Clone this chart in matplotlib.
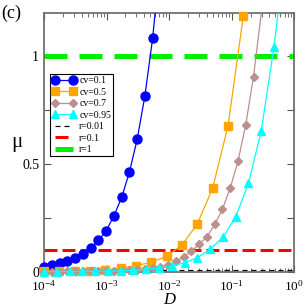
import matplotlib
matplotlib.use("Agg")
import matplotlib.pyplot as plt
import numpy as np
from matplotlib.ticker import LogLocator

plt.rcParams['font.family'] = ['Liberation Serif', 'DejaVu Serif']
plt.rcParams['mathtext.fontset'] = 'stix'
plt.rcParams['lines.scale_dashes'] = False

# log10(D) positions and mu values
blue_logD = [-4.0, -3.876, -3.752, -3.628, -3.504, -3.38, -3.256, -3.132, -3.008,
             -2.884, -2.76, -2.636, -2.512, -2.388, -2.264]
blue_mu = [0.022, 0.032, 0.041, 0.051, 0.063, 0.081, 0.108, 0.145, 0.19,
           0.258, 0.345, 0.461, 0.614, 0.816, 1.085]

orange_logD = [-4.0, -3.755, -3.51, -3.265, -3.02, -2.775, -2.53, -2.285, -2.04,
               -1.795, -1.55, -1.305, -1.06, -0.815]
orange_mu = [0.001, 0.002, 0.003, 0.005, 0.009, 0.016, 0.028, 0.044, 0.071,
             0.124, 0.222, 0.388, 0.677, 1.187]

brown_logD = [-4.0, -3.876, -3.752, -3.628, -3.504, -3.38, -3.256, -3.132, -3.008,
              -2.884, -2.76, -2.636, -2.512, -2.388, -2.264, -2.14, -2.016, -1.892,
              -1.768, -1.644, -1.52, -1.396, -1.272, -1.148, -1.024, -0.9, -0.776, -0.652]
brown_mu = [0.0, 0.0, 0.0, 0.001, 0.001, 0.001, 0.002, 0.002, 0.003,
            0.004, 0.005, 0.007, 0.009, 0.012, 0.016, 0.022, 0.03, 0.05,
            0.068, 0.095, 0.128, 0.162, 0.22, 0.291, 0.389, 0.513, 0.683, 0.906]

cyan_logD = [-4.0, -3.796, -3.592, -3.387, -3.183, -2.979, -2.775, -2.571, -2.367,
             -2.162, -1.958, -1.754, -1.55, -1.345, -1.141, -0.937, -0.733, -0.529, -0.325]
cyan_mu = [0.0, 0.0, 0.001, 0.001, 0.002, 0.003, 0.004, 0.007, 0.011,
           0.017, 0.026, 0.042, 0.065, 0.104, 0.159, 0.255, 0.41, 0.654, 1.043]

# where each smooth curve leaves the top of the frame
curve_exit_logD = [-2.225, -0.80, -0.528, -0.26]
curve_exit_mu = [1.2, 1.25, 1.2, 1.2]

labels = ['cv=0.1', 'cv=0.5', 'cv=0.7', 'cv=0.95']
r_values = [0.01, 0.1, 1]
r_labels = ['r=0.01', 'r=0.1', 'r=1']

fig = plt.figure(figsize=(3.05, 3.07), dpi=100)
ax = fig.add_axes([0.1443, 0.115, 0.8207, 0.8417])

px = 0.72  # points per pixel

# horizontal reference lines
ax.axhline(r_values[0], color='black', lw=1.2 * px, dashes=(5 * px, 4 * px), label=r_labels[0], zorder=2)
ax.axhline(r_values[1], color='#ff0000', lw=3 * px, dashes=(13 * px, 5 * px), label=r_labels[1], zorder=2)
ax.axhline(r_values[2], color='#00ee00', lw=5 * px, dashes=(23 * px, 12 * px), label=r_labels[2], zorder=2)

series = [
    (blue_logD, blue_mu, '#0000ff', 'o', 6.5),
    (orange_logD, orange_mu, '#ffa500', 's', 5.2),
    (brown_logD, brown_mu, '#bc8f8f', 'D', 4.0),
    (cyan_logD, cyan_mu, '#00ffff', '^', 6.0),
]

handles = []
for i, (lx, mu, c, m, ms) in enumerate(series):
    x = 10 ** np.array(lx + [curve_exit_logD[i]])
    y = np.array(mu + [curve_exit_mu[i]])
    ax.plot(x, y, color=c, lw=0.9, zorder=3 + i)
    ax.plot(10 ** np.array(lx), mu, color=c, lw=0, marker=m, ms=ms,
            mec=c, mfc=c, zorder=3 + i, clip_on=False)
    h, = ax.plot([], [], color=c, lw=0.9, marker=m, ms=ms, mec=c, mfc=c, label=labels[i])
    handles.append(h)

line_handles = ax.get_lines()[:3]

ax.set_xscale('log')
ax.set_xlim(1e-4, 1)
ax.set_ylim(0, 1.2)

ax.set_yticks([0, 0.25, 0.5, 0.75, 1.0])
ax.set_yticklabels(['0', '', '0.5', '', '1'])
ax.tick_params(axis='both', which='both', direction='in', top=True, right=True,
               labelsize=10, color='#555555')
ax.tick_params(axis='both', which='major', length=5, width=0.8, pad=3)
ax.tick_params(axis='x', which='minor', length=3, width=0.6)
ax.tick_params(axis='x', which='major', pad=5, labelsize=9.5)
ax.tick_params(axis='y', which='major', pad=3.5)
ax.xaxis.set_minor_locator(LogLocator(base=10, subs=np.arange(2, 10), numticks=20))

for s in ax.spines.values():
    s.set_color('#666666')
    s.set_linewidth(1.2)

ax.set_xlabel('D', fontsize=12, fontstyle='italic', labelpad=-1)
ax.set_ylabel('μ', fontsize=15, rotation=0, va='center', ha='center')
ax.yaxis.set_label_coords(-0.11, 0.50)

fig.text(0.005, 0.985, '(c)', fontsize=13, ha='left', va='top')

leg = ax.legend(handles + line_handles, labels + r_labels, loc='upper left',
                bbox_to_anchor=(0.024, 0.765), borderaxespad=0, fontsize=7,
                numpoints=2, handlelength=2.4, handletextpad=0.35, labelspacing=0.25,
                borderpad=0.25, fancybox=False, framealpha=1, edgecolor='black')
leg.get_frame().set_linewidth(0.8)

fig.savefig('out.png', dpi=100)
